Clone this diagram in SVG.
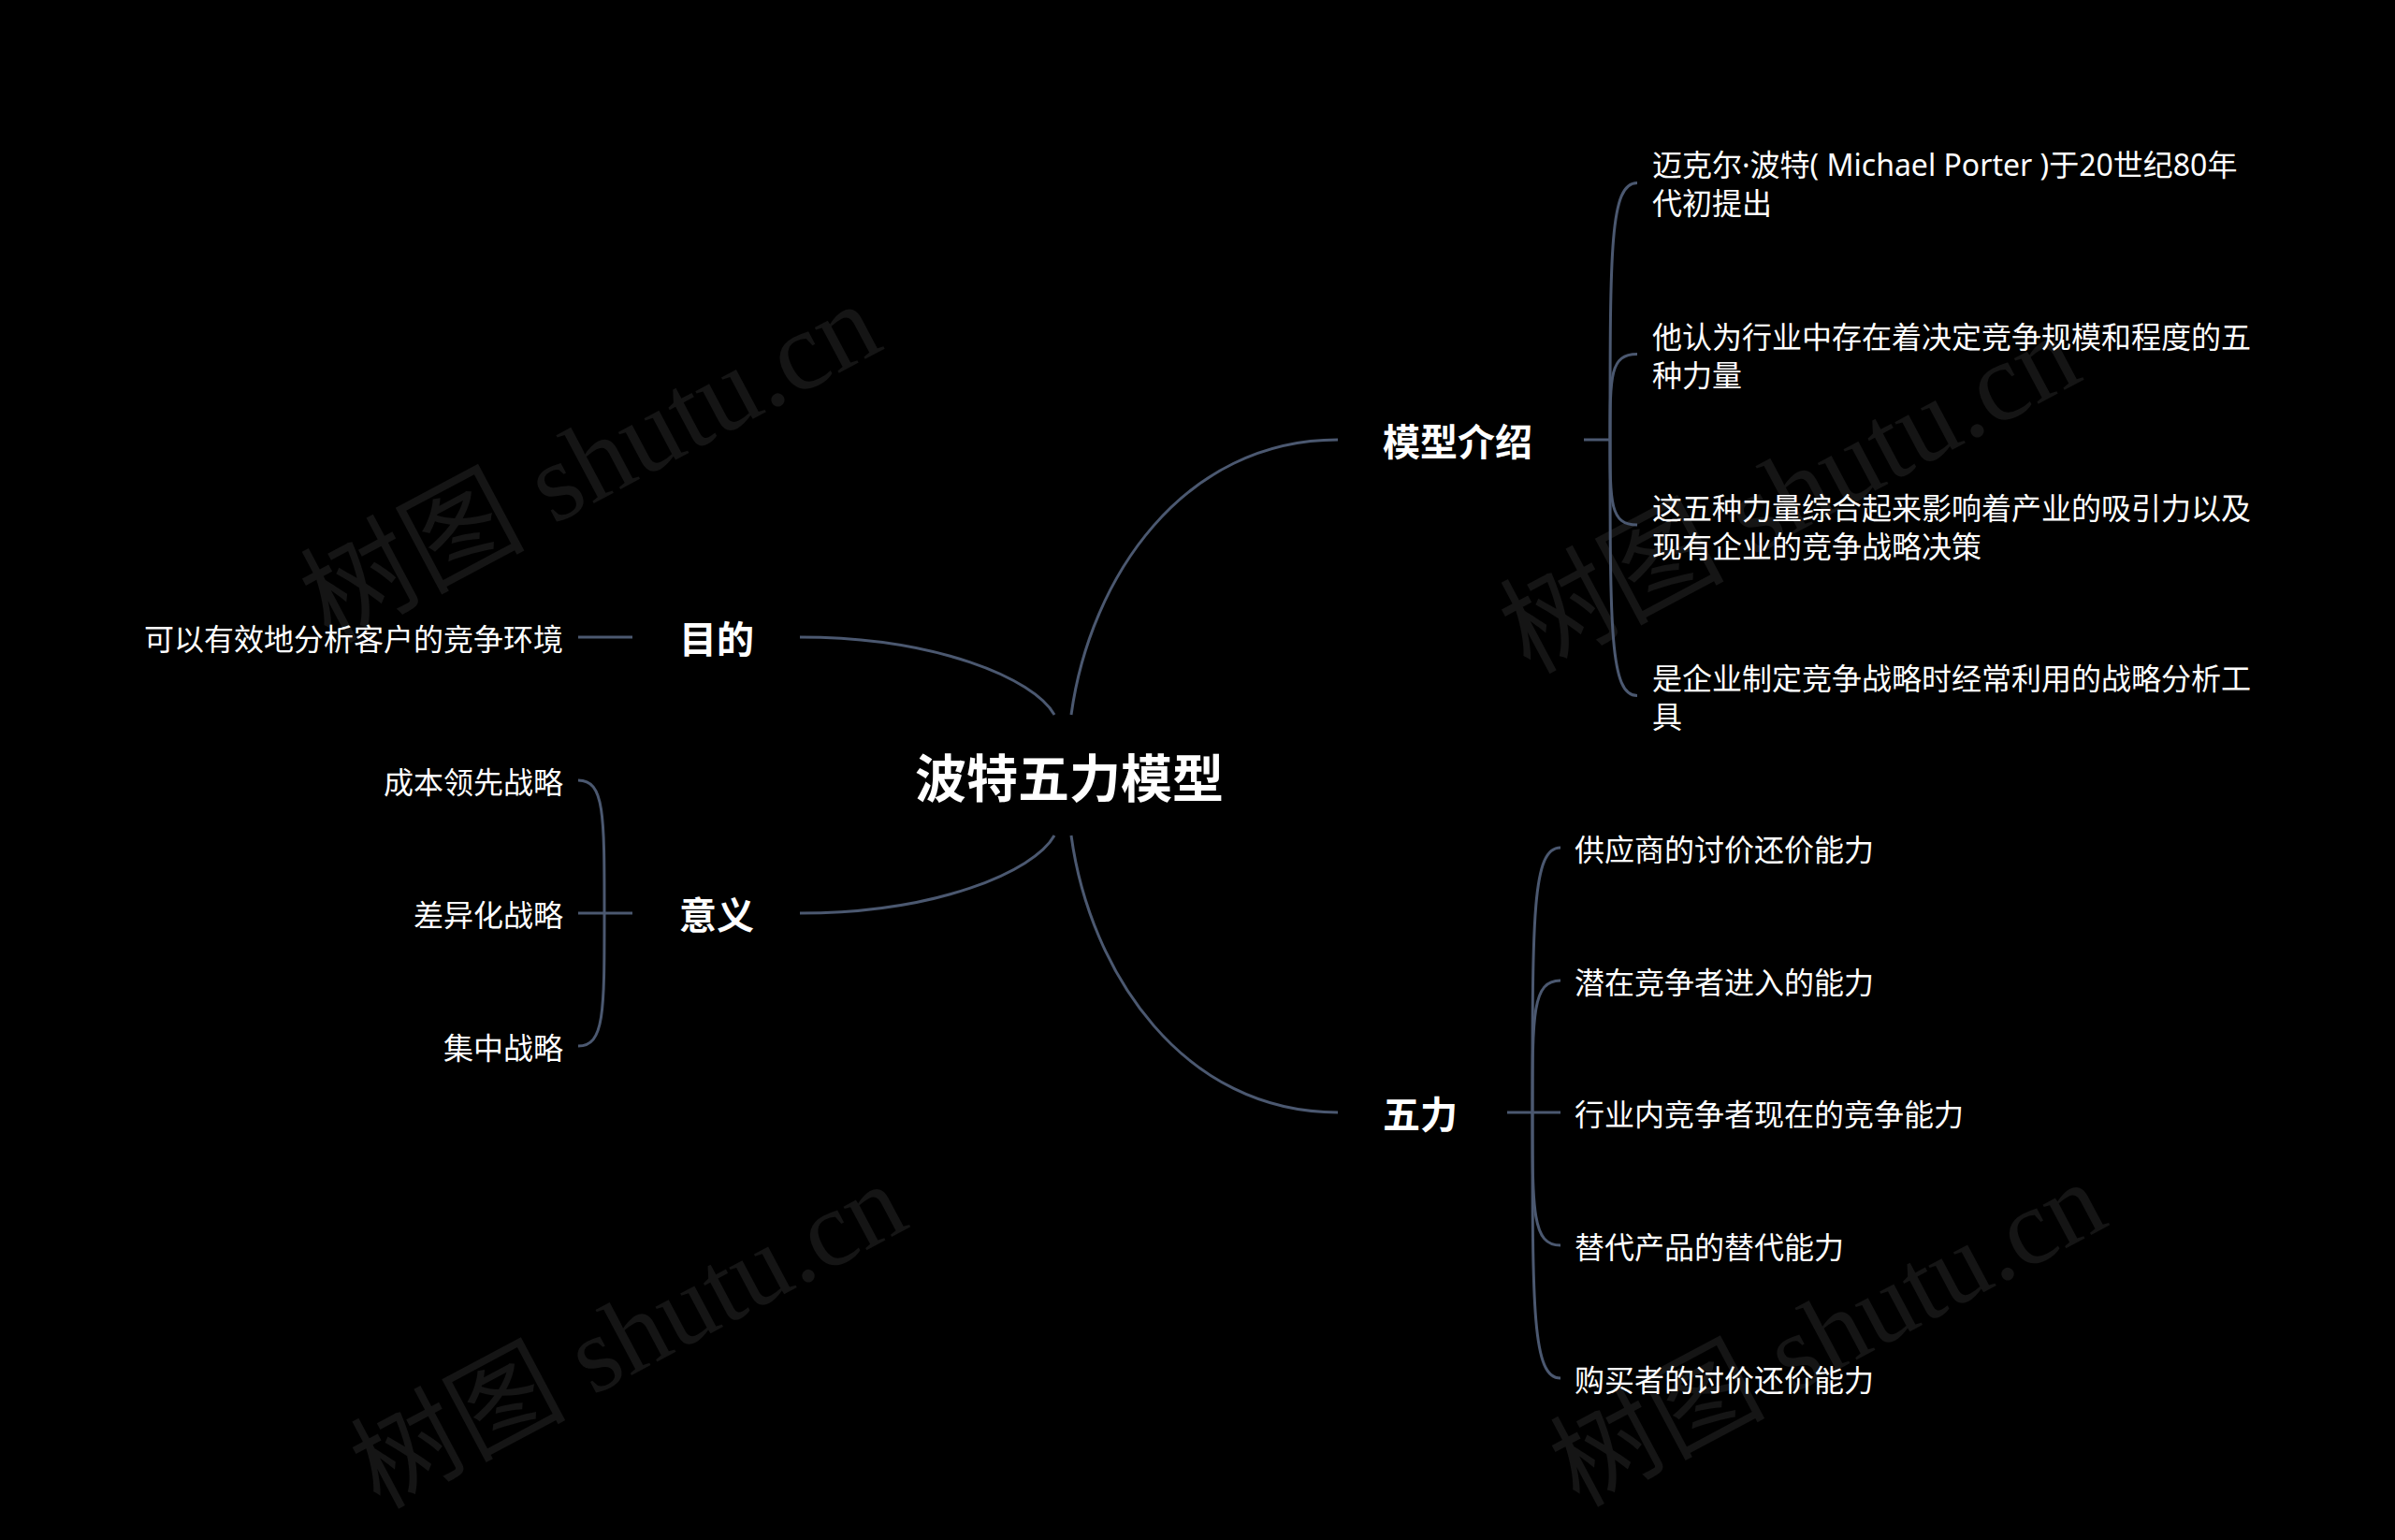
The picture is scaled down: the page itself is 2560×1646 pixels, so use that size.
<svg xmlns="http://www.w3.org/2000/svg" width="2560" height="1646" viewBox="0 0 2560 1646">
<style>
.wm{font-family:"Liberation Serif","Noto Sans CJK SC",serif;font-size:120px;fill:#151515}
.wm2{font-size:115px}
.t{font-family:"Noto Sans CJK SC","Noto Sans",sans-serif;fill:#ffffff;dominant-baseline:central}
.lat{font-family:"Noto Sans","Noto Sans CJK SC",sans-serif}
.root{font-size:55px;font-weight:bold}
.main{font-size:40px;font-weight:bold}
.leaf{font-size:32px}
.c{fill:none;stroke:#4b5870;stroke-width:3}
</style>
<rect x="0" y="0" width="2560" height="1646" fill="#000000"/>
<g id="watermarks">
<text class="wm" x="650" y="530" text-anchor="middle" transform="rotate(-28 650 530)">树图 shutu.cn</text>
<text class="wm" x="1932" y="563" text-anchor="middle" transform="rotate(-28 1932 563)">树图 shutu.cn</text>
<text class="wm wm2" x="690" y="1462" text-anchor="middle" transform="rotate(-28 690 1462)">树图 shutu.cn</text>
<text class="wm wm2" x="1972" y="1460" text-anchor="middle" transform="rotate(-28 1972 1460)">树图 shutu.cn</text>
</g>
<g id="connectors">
<path class="c" d="M1127,764 C1105,725 1000,681 855,681"/>
<path class="c" d="M1127,893 C1105,932 1000,976 855,976"/>
<path class="c" d="M1145,764 C1165,617 1265,470 1430,470"/>
<path class="c" d="M1145,893 C1165,1040 1265,1189 1430,1189"/>
<path class="c" d="M618,681 L676,681"/>
<path class="c" d="M618,976 L676,976"/>
<path class="c" d="M1693,470 L1721,470"/>
<path class="c" d="M1611,1189 L1668,1189"/>
<path class="c" d="M646,976 C646,869 646,834 618,834"/>
<path class="c" d="M646,976 C646,1083 646,1118 618,1118"/>
<path class="c" d="M1721,470 C1721,264 1721,195.5 1750,195.5"/>
<path class="c" d="M1721,470 C1721,401 1721,378.5 1750,378.5"/>
<path class="c" d="M1721,470 C1721,538 1721,561 1750,561"/>
<path class="c" d="M1721,470 C1721,675 1721,743.5 1750,743.5"/>
<path class="c" d="M1638,1189 C1638,977 1638,906 1668,906"/>
<path class="c" d="M1638,1189 C1638,1083 1638,1048 1668,1048"/>
<path class="c" d="M1638,1189 C1638,1296 1638,1331 1668,1331"/>
<path class="c" d="M1638,1189 C1638,1402 1638,1473 1668,1473"/>
</g>
<g id="root"><text class="t root" x="1143" y="828" text-anchor="middle">波特五力模型</text></g>
<g id="purpose"><text class="t main" x="766" y="681" text-anchor="middle">目的</text></g>
<g id="meaning"><text class="t main" x="766" y="976" text-anchor="middle">意义</text></g>
<g id="intro"><text class="t main" x="1478" y="470">模型介绍</text></g>
<g id="forces"><text class="t main" x="1478" y="1189">五力</text></g>
<g id="purpose-1"><text class="t leaf" x="602" y="681" text-anchor="end">可以有效地分析客户的竞争环境</text></g>
<g id="meaning-1"><text class="t leaf" x="602" y="834" text-anchor="end">成本领先战略</text></g>
<g id="meaning-2"><text class="t leaf" x="602" y="976" text-anchor="end">差异化战略</text></g>
<g id="meaning-3"><text class="t leaf" x="602" y="1118" text-anchor="end">集中战略</text></g>
<g id="intro-1"><text class="t leaf lat" x="1766" y="175">迈克尔·波特( Michael Porter )于20世纪80年<tspan x="1766" y="216">代初提出</tspan></text></g>
<g id="intro-2"><text class="t leaf" x="1766" y="358">他认为行业中存在着决定竞争规模和程度的五<tspan x="1766" y="399">种力量</tspan></text></g>
<g id="intro-3"><text class="t leaf" x="1766" y="540.5">这五种力量综合起来影响着产业的吸引力以及<tspan x="1766" y="581.5">现有企业的竞争战略决策</tspan></text></g>
<g id="intro-4"><text class="t leaf" x="1766" y="723">是企业制定竞争战略时经常利用的战略分析工<tspan x="1766" y="764">具</tspan></text></g>
<g id="force-1"><text class="t leaf" x="1683" y="906">供应商的讨价还价能力</text></g>
<g id="force-2"><text class="t leaf" x="1683" y="1048">潜在竞争者进入的能力</text></g>
<g id="force-3"><text class="t leaf" x="1683" y="1189">行业内竞争者现在的竞争能力</text></g>
<g id="force-4"><text class="t leaf" x="1683" y="1331">替代产品的替代能力</text></g>
<g id="force-5"><text class="t leaf" x="1683" y="1473">购买者的讨价还价能力</text></g>
</svg>
